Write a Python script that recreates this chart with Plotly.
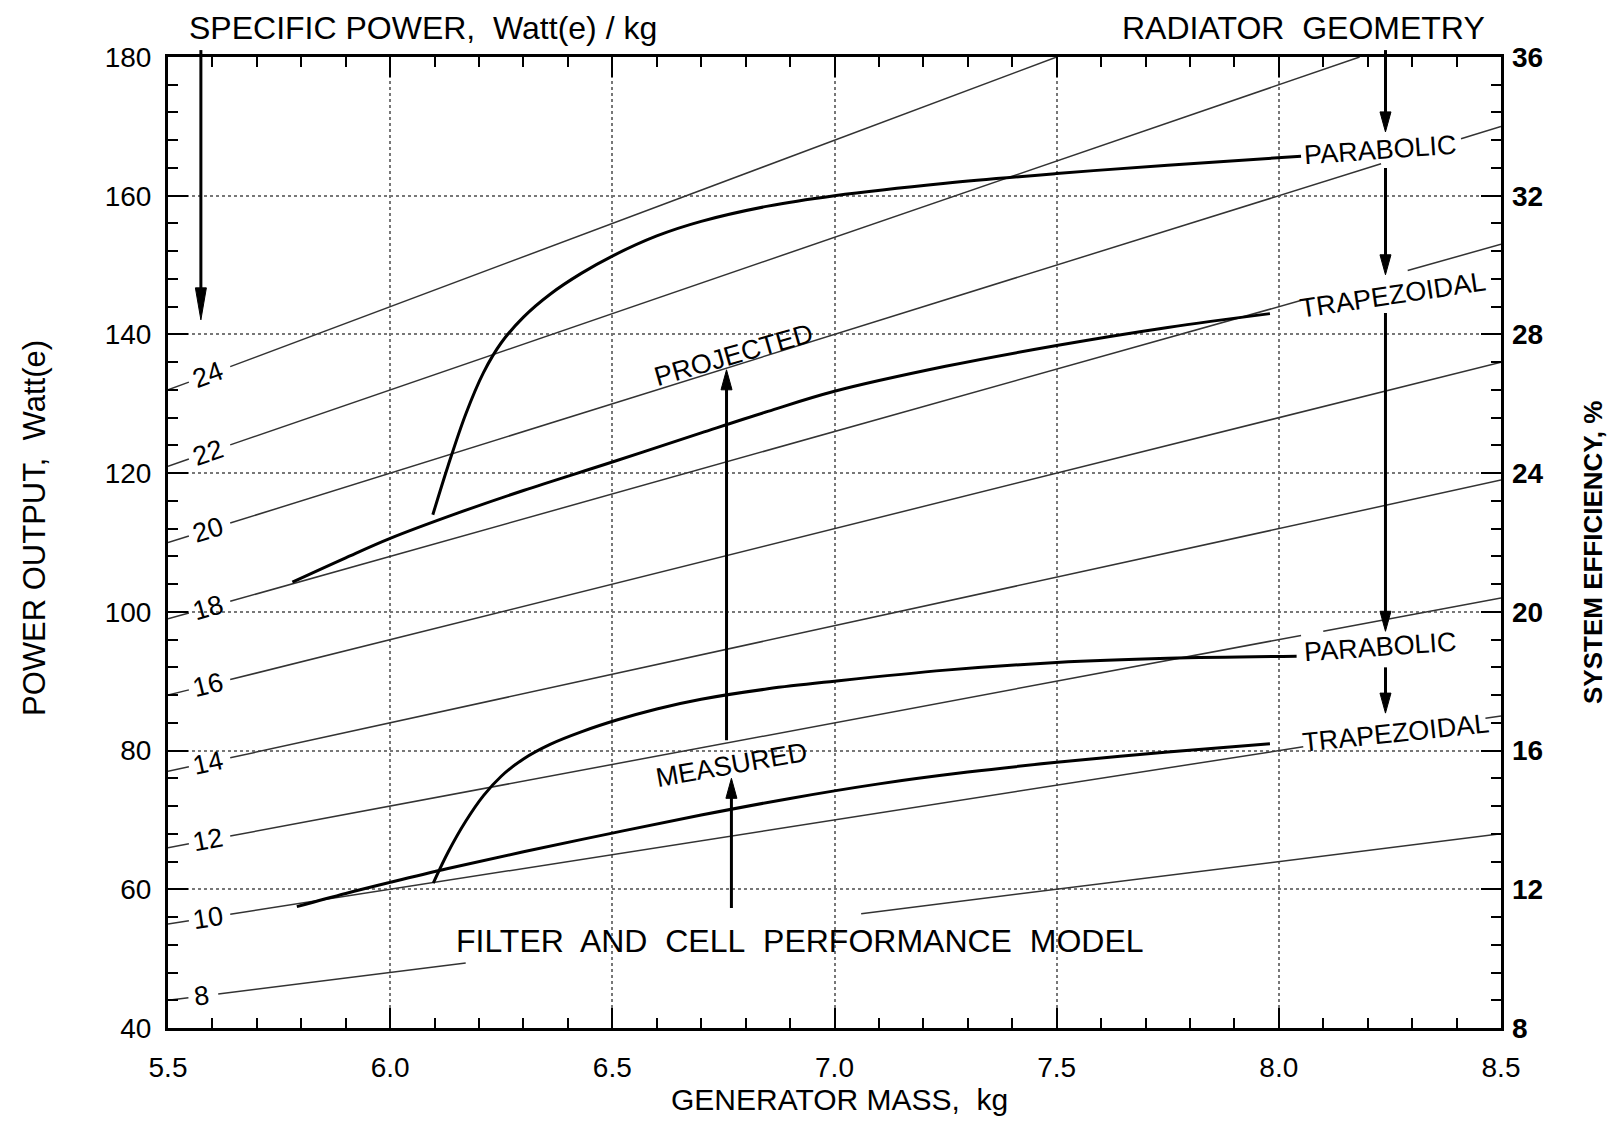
import math
import plotly.graph_objects as go

# ---------------- data ----------------
specific_power = [8, 10, 12, 14, 16, 18, 20, 22, 24]          # W(e)/kg iso-lines
line_gaps = {8: [(6.17, 7.06)], 10: [(8.055, 8.465)], 12: [(8.05, 8.10)],
             18: [(8.055, 8.29)], 20: [(8.23, 8.41)]}

proj_para_x = [6.096, 6.13, 6.17, 6.21, 6.25, 6.30, 6.36, 6.43, 6.50, 6.60, 6.70, 6.85, 7.0, 7.25, 7.5, 7.75, 8.05]
proj_para_y = [114.0, 121.0, 128.5, 134.5, 138.8, 142.5, 145.8, 148.8, 151.3, 154.2, 156.3, 158.5, 160.0, 161.8, 163.2, 164.4, 165.7]

proj_trap_x = [5.78, 5.9, 6.0, 6.15, 6.3, 6.5, 6.7, 6.85, 7.0, 7.25, 7.5, 7.75, 7.98]
proj_trap_y = [104.3, 107.8, 110.6, 114.2, 117.5, 121.6, 125.8, 128.9, 131.8, 135.4, 138.4, 141.0, 143.0]

meas_para_x = [6.097, 6.13, 6.17, 6.21, 6.25, 6.30, 6.36, 6.43, 6.51, 6.6, 6.7, 6.85, 7.0, 7.25, 7.5, 7.75, 8.04]
meas_para_y = [60.9, 65.3, 69.8, 73.5, 76.3, 78.8, 80.9, 82.7, 84.4, 86.0, 87.4, 88.9, 90.0, 91.6, 92.7, 93.3, 93.6]

meas_trap_x = [5.79, 5.9, 6.0, 6.13, 6.3, 6.5, 6.7, 6.9, 7.1, 7.3, 7.5, 7.75, 7.98]
meas_trap_y = [57.5, 59.4, 61.0, 63.0, 65.4, 68.1, 70.7, 73.1, 75.2, 76.9, 78.3, 79.8, 81.0]

x_ticks = [5.5, 6.0, 6.5, 7.0, 7.5, 8.0, 8.5]
y_ticks = [40, 60, 80, 100, 120, 140, 160, 180]
eff_ticks = [8, 12, 16, 20, 24, 28, 32, 36]

# arrows: (x, tail y, tip y, head length px)
arrows = [(5.574, 181.0, 142.1, 32), (8.24, 181.0, 169.2, 20), (8.24, 164.0, 148.6, 20),
          (8.24, 143.1, 97.2, 20), (8.24, 92.0, 85.4, 20), (6.757, 81.5, 134.9, 20),
          (6.768, 57.3, 76.0, 20)]

# in-plot labels: (text, x, y, angle)
labels = [("PROJECTED", 6.773, 137.0, -16), ("MEASURED", 6.768, 77.9, -10),
          ("PARABOLIC", 8.228, 166.6, -4), ("TRAPEZOIDAL", 8.258, 145.7, -8.5),
          ("PARABOLIC", 8.228, 95.0, -4), ("TRAPEZOIDAL", 8.264, 82.5, -6)]

XMIN, XMAX, YMIN, YMAX = 5.5, 8.5, 40, 180
OFF = 8                       # default page body margin
W, H = 1618 - 2 * OFF, 1126 - 2 * OFF
ML, MT = 168 - OFF, 57 - OFF
PW, PH = 1333, 971
MR, MB = W - ML - PW, H - MT - PH
FONT = "Liberation Sans, Arial, Helvetica, sans-serif"

fig = go.Figure()


def px(x):
    return (x - XMIN) / (XMAX - XMIN)


def py(y):
    return (y - YMIN) / (YMAX - YMIN)


def pagex(X):
    return (X - OFF - ML) / PW


def pagey(Y):
    return ((MT + PH) - (Y - OFF)) / PH


# specific power lines
for s in specific_power:
    lab_c = 5.575 if s < 10 else 5.589
    half = 0.024 if s < 10 else 0.037
    end = min(XMAX, YMAX / s)
    segs = [(XMIN, lab_c - half - 0.005), (lab_c + half + 0.014, end)]
    for g0, g1 in line_gaps.get(s, []):
        new = []
        for a, b in segs:
            if g1 <= a or g0 >= b:
                new.append((a, b))
            else:
                if g0 > a:
                    new.append((a, g0))
                if g1 < b:
                    new.append((g1, b))
        segs = new
    xs, ys = [], []
    for a, b in segs:
        xs += [a, b, None]
        ys += [s * a, s * b, None]
    fig.add_trace(go.Scatter(x=xs, y=ys, mode="lines", line=dict(color="#333333", width=1.5),
                             hoverinfo="skip", showlegend=False))
    ang = math.degrees(math.atan(s * (PH / (YMAX - YMIN)) / (PW / (XMAX - XMIN))))
    fig.add_annotation(x=lab_c, y=s * lab_c, text=str(s), showarrow=False, textangle=-ang,
                       font=dict(family=FONT, size=27, color="black"))

# performance curves
for cx, cy in [(proj_para_x, proj_para_y), (proj_trap_x, proj_trap_y),
               (meas_para_x, meas_para_y), (meas_trap_x, meas_trap_y)]:
    fig.add_trace(go.Scatter(x=cx, y=cy, mode="lines",
                             line=dict(color="black", width=3, shape="spline", smoothing=1.0),
                             hoverinfo="skip", showlegend=False))

# invisible trace for the efficiency axis
fig.add_trace(go.Scatter(x=[XMIN, XMAX], y=[eff_ticks[0], eff_ticks[-1]], yaxis="y2",
                         mode="markers", marker=dict(opacity=0), hoverinfo="skip", showlegend=False))

shapes = []
for x, y0, y1, hl in arrows:
    d = 1 if y1 > y0 else -1
    tip = py(y1)
    base = tip - d * hl / PH
    hw = 5.5 / PW
    shapes.append(dict(type="line", xref="paper", yref="paper", x0=px(x), x1=px(x),
                       y0=py(y0), y1=base + d * 2 / PH, line=dict(color="black", width=3)))
    shapes.append(dict(type="path", xref="paper", yref="paper",
                       path=f"M {px(x)-hw},{base} L {px(x)+hw},{base} L {px(x)},{tip} Z",
                       fillcolor="black", line=dict(color="black", width=1)))

for t, x, y, a in labels:
    fig.add_annotation(x=x, y=y, text=t, showarrow=False, textangle=a,
                       font=dict(family=FONT, size=27, color="black"))

NB = "\u00a0"
fig.add_annotation(x=6.922, y=52.5, text=f"FILTER{NB} AND{NB} CELL{NB} PERFORMANCE{NB} MODEL",
                   showarrow=False, font=dict(family=FONT, size=32, color="black"))
fig.add_annotation(xref="paper", yref="paper", x=pagex(187), y=pagey(28), xanchor="left", yanchor="middle",
                   text=f"SPECIFIC POWER,{NB} Watt(e) / kg",
                   showarrow=False, font=dict(family=FONT, size=32, color="black"))
fig.add_annotation(xref="paper", yref="paper", x=pagex(1487), y=pagey(28), xanchor="right", yanchor="middle",
                   text=f"RADIATOR{NB} GEOMETRY",
                   showarrow=False, font=dict(family=FONT, size=32, color="black"))
# axis titles
fig.add_annotation(xref="paper", yref="paper", x=pagex(839), y=pagey(1099),
                   xanchor="center", yanchor="middle", text=f"GENERATOR MASS,{NB} kg",
                   showarrow=False, font=dict(family=FONT, size=30, color="black"))
fig.add_annotation(xref="paper", yref="paper", x=pagex(34), y=pagey(528),
                   xanchor="center", yanchor="middle", textangle=-90, text=f"POWER OUTPUT,{NB} Watt(e)",
                   showarrow=False, font=dict(family=FONT, size=31, color="black"))
fig.add_annotation(xref="paper", yref="paper", x=pagex(1593), y=pagey(552),
                   xanchor="center", yanchor="middle", textangle=-90, text="<b>SYSTEM EFFICIENCY, %</b>",
                   showarrow=False, font=dict(family=FONT, size=26, color="black"))

axis_common = dict(showline=True, linecolor="black", linewidth=3, ticks="inside",
                   tickcolor="black", tickwidth=2, ticklen=20, mirror="ticks",
                   showgrid=True, gridcolor="#777", gridwidth=2, griddash="dot",
                   zeroline=False, automargin=False)

fig.update_layout(
    width=W, height=H,
    margin=dict(l=ML, r=MR, t=MT, b=MB),
    paper_bgcolor="white", plot_bgcolor="white",
    font=dict(family=FONT, color="black"),
    shapes=shapes,
    xaxis=dict(range=[XMIN, XMAX], tickvals=x_ticks, tickformat=".1f",
               tickfont=dict(size=28), ticklabelstandoff=12,
               minor=dict(dtick=0.1, ticklen=10, tickwidth=2, tickcolor="black", ticks="inside", showgrid=False),
               **axis_common),
    yaxis=dict(range=[YMIN, YMAX], tickvals=y_ticks, tickfont=dict(size=28), ticklabelstandoff=8,
               minor=dict(dtick=4, ticklen=10, tickwidth=2, tickcolor="black", ticks="inside", showgrid=False),
               **axis_common),
    yaxis2=dict(range=[eff_ticks[0], eff_ticks[-1]], tickvals=eff_ticks, overlaying="y", side="right",
                showline=False, ticks="", showgrid=False, zeroline=False, automargin=False,
                tickfont=dict(size=28, family="Liberation Sans, Arial", weight="bold"), ticklabelstandoff=10),
)

fig.write_html("out.html")
